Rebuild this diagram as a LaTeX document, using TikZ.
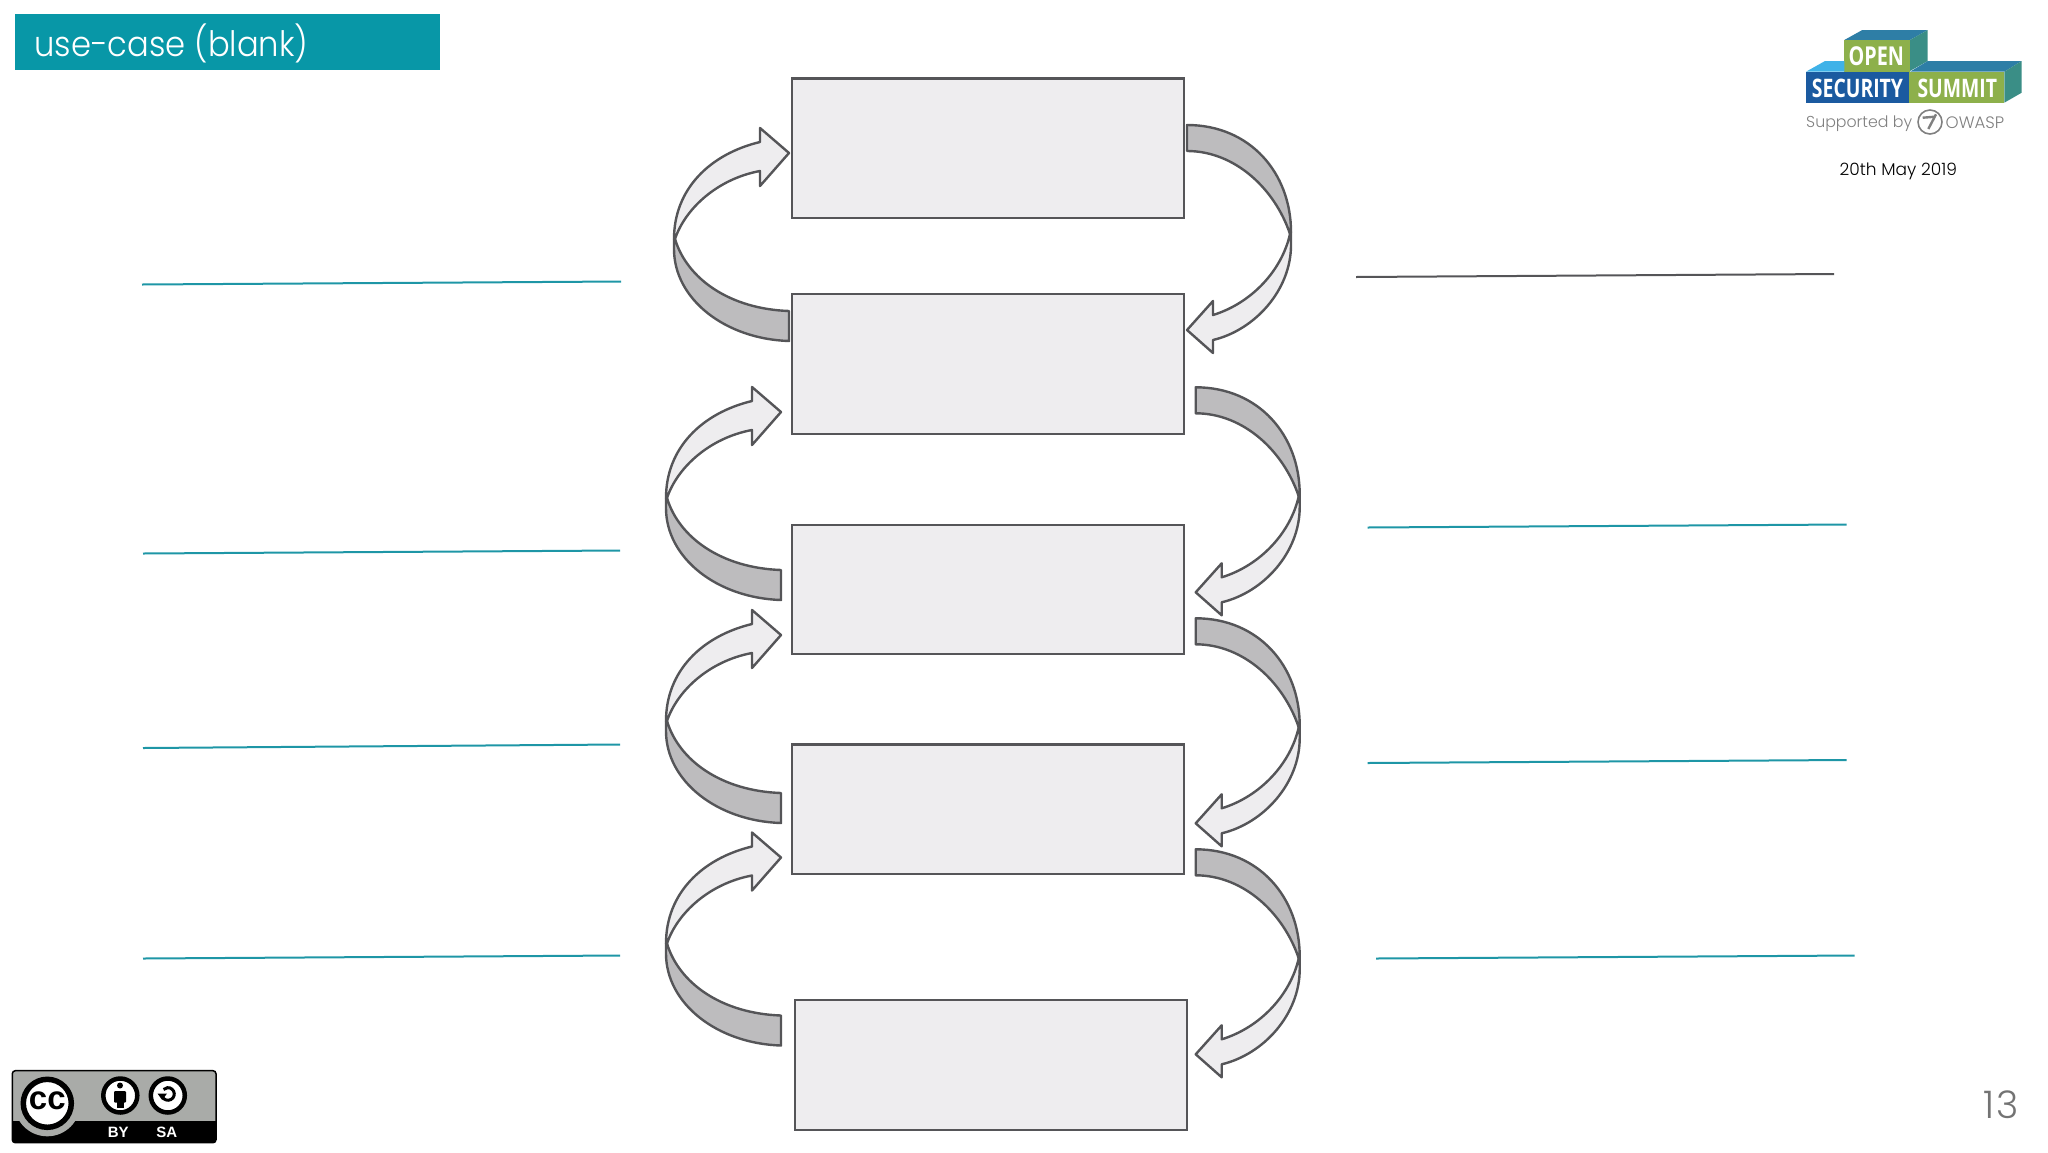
\documentclass[tikz,border=0pt]{standalone}
\usepackage{fontspec}
\usepackage{xcolor}
\newfontfamily\titlefont{Poppins Light}
\newfontfamily\headfont[FakeStretch=0.92]{Poppins Light}
\newfontfamily\logofont[FakeStretch=0.76]{Open Sans}
\newfontfamily\badgefont{Liberation Sans}
\definecolor{edgegray}{HTML}{555558}
\definecolor{panelfill}{HTML}{EEEDEF}
\definecolor{bandfill}{HTML}{BDBCBE}
\definecolor{tealbar}{HTML}{0897A7}
\definecolor{tealline}{HTML}{1E96A6}
\definecolor{logotop}{HTML}{2E7EA6}
\definecolor{logoside}{HTML}{3A8E86}
\definecolor{logogreen}{HTML}{8DB04B}
\definecolor{logoblue}{HTML}{1B5AA0}
\definecolor{logosky}{HTML}{3FB2E8}
\definecolor{ccgray}{HTML}{A9ABA8}
\tikzset{
	panel/.style={draw=edgegray, line width=2.2pt, fill=panelfill, inner sep=0pt, minimum width=392pt},
	lightband/.style={draw=edgegray, line width=2.4pt, line join=round, fill=panelfill},
	darkband/.style={draw=edgegray, line width=2.4pt, line join=round, fill=bandfill},
	rule/.style={line width=2pt, tealline},
	leftcurve/.pic={
		\draw[lightband] (-1,0) .. controls (-1,-50) and (35,-85) .. (85,-97) -- (85,-111) -- (114,-86) -- (85,-53) -- (85,-68) .. controls (42,-60) and (10,-30) .. (0,0) -- cycle;
		\draw[darkband] (-1,0) -- (-1,10) .. controls (-1,60) and (50,100) .. (114,102) -- (114,72) .. controls (55,70) and (12,40) .. (0,0) -- cycle;
	},
	rightcurve/.pic={
		\draw[darkband] (-103,-110) .. controls (-40,-110) and (1,-62) .. (1,-3) -- (0,-1) .. controls (-15,-46) and (-55,-84) .. (-103,-84) -- cycle;
		\draw[lightband] (1,-3) -- (1,10) .. controls (1,55) and (-35,95) .. (-77,105) -- (-77,118) -- (-103,95) -- (-77,66) -- (-77,80) .. controls (-38,68) and (-8,35) .. (0,-1) -- cycle;
	}
}
\begin{document}
\begin{tikzpicture}[x=1pt,y=-1pt]
\useasboundingbox (0,0) rectangle (2048,1152);

% title bar
\fill [tealbar] (15,14) rectangle (440,70);
\node [anchor=west, inner sep=0pt, text=white] (title) at (34,43) {\headfont\fontsize{35}{40}\selectfont use-case (blank)};

% boxes
\node [panel, minimum height=139.5pt] (boxa) at (988.2,148.2) {};
\node [panel, minimum height=140.3pt] (boxb) at (988.2,364.2) {};
\node [panel, minimum height=129.3pt] (boxc) at (988.2,589.7) {};
\node [panel, minimum height=129.8pt] (boxd) at (988.2,809.4) {};
\node [panel, minimum height=130pt] (boxe) at (991.2,1065) {};

% curved arrows
\foreach \n/\x/\y in {a/675/239,b/667/498,c/667/721,d/667/943.5}{
	\coordinate (turnl\n) at (\x,\y);
	\pic at (turnl\n) {leftcurve};
}
\foreach \n/\x/\y in {a/1290/235,b/1298.7/497.3,c/1298.7/728.3,d/1298.7/959.3}{
	\coordinate (turnr\n) at (\x,\y);
	\pic at (turnr\n) {rightcurve};
}

% answer lines
\foreach \n/\xa/\ya/\xb/\yb in {a/142/284.5/621/281.5,b/143/553.5/620/550.5,c/143/748/620/744.5,d/143/958.5/620/955.5,e/1367.5/527.5/1846.5/524.5,f/1367.5/763/1846.5/760,g/1376/958.5/1854.5/955.5}{
	\coordinate (ruleb\n) at (\xa,\ya);
	\coordinate (rulee\n) at (\xb,\yb);
	\draw [rule] (ruleb\n) -- (rulee\n);
}
\coordinate (rulebh) at (1356,277);
\coordinate (ruleeh) at (1834,274);
\draw [line width=2pt, edgegray] (rulebh) -- (ruleeh);

% summit logo
\fill [logotop] (1844.3,40) -- (1862.3,30) -- (1927.7,30) -- (1910,40) -- cycle;
\fill [logoside] (1910,40) -- (1927.7,30) -- (1927.7,61) -- (1910,71) -- cycle;
\fill [logogreen] (1844.3,40) rectangle (1910,71.7);
\fill [logosky] (1806,71.7) -- (1825,61) -- (1844.3,61) -- (1844.3,71.7) -- cycle;
\fill [logotop] (1910,71.7) -- (1927.7,61) -- (2021.7,61) -- (2004.3,71.7) -- cycle;
\fill [logoside] (2004.3,71.7) -- (2021.7,61) -- (2021.7,92.7) -- (2004.3,102.7) -- cycle;
\fill [logoblue] (1806,71.7) rectangle (1909.3,102.7);
\fill [logogreen] (1909.3,71.7) rectangle (2004.3,102.7);
\node [text=white, inner sep=0pt] (logoopen) at (1876.3,56.5) {\logofont\bfseries\fontsize{26}{26}\selectfont OPEN};
\node [text=white, inner sep=0pt] (logosec) at (1857.5,88) {\logofont\bfseries\fontsize{25.5}{26}\selectfont SECURITY};
\node [text=white, inner sep=0pt] (logosum) at (1957.3,88) {\logofont\bfseries\fontsize{25.5}{26}\selectfont SUMMIT};
\node [anchor=west, inner sep=0pt, text=black!50] (support) at (1806,124) {\titlefont\fontsize{15.8}{18}\selectfont Supported by};
\draw [line width=1.6pt, black!50] (1930,122) circle (12);
\draw [line width=2.4pt, black!50] (1922.7,117.7) -- (1935,116.7);
\draw [line width=2.4pt, black!50] (1936,114.3) -- (1928.3,129);
\node [anchor=west, inner sep=0pt, text=black!50] (owasp) at (1945.5,122.5) {\titlefont\fontsize{16.6}{18}\selectfont OWASP};
\node [inner sep=0pt] (datetext) at (1898.3,171) {\titlefont\fontsize{17}{20}\selectfont 20th May 2019};

% cc badge
\begin{scope}
\clip [rounded corners=3pt] (12.3,1070.7) rectangle (216,1142.7);
\fill [ccgray] (12.3,1070.7) rectangle (216,1121);
\fill [black] (12.3,1121) rectangle (216,1142.7);
\fill [ccgray] (47.3,1103.3) circle (33);
\end{scope}
\draw [line width=1.5pt, black, rounded corners=3pt] (12.3,1070.7) rectangle (216,1142.7);
\draw [line width=5.5pt, black, fill=white] (47.3,1103.3) circle (24);
\node [inner sep=0pt] (cctext) at (47.3,1100.5) {\badgefont\bfseries\fontsize{33}{33}\selectfont cc};
\draw [line width=4.5pt, black, fill=white] (120.3,1095.5) circle (17);
\fill [black] (120,1085.5) circle (3);
\fill [black, rounded corners=1pt] (114,1091) rectangle (126,1102.5);
\fill [black] (116.5,1102) rectangle (123.5,1108);
\draw [line width=4.5pt, black, fill=white] (167.8,1095.5) circle (17);
\draw [line width=3pt, black] (161.7,1094.5) arc (175:-135:6.3);
\fill [black] (157.5,1093.5) -- (167,1093.5) -- (162.2,1100) -- cycle;
\node [text=white, inner sep=0pt] (bytext) at (118.3,1132.5) {\badgefont\bfseries\fontsize{15}{15}\selectfont BY};
\node [text=white, inner sep=0pt] (satext) at (166.7,1132.5) {\badgefont\bfseries\fontsize{15}{15}\selectfont SA};

% page number
\node [text=black!55, inner sep=0pt] (pagenum) at (2001.5,1105) {\titlefont\fontsize{38}{40}\selectfont 1\kern2pt 3};
\end{tikzpicture}
\end{document}
